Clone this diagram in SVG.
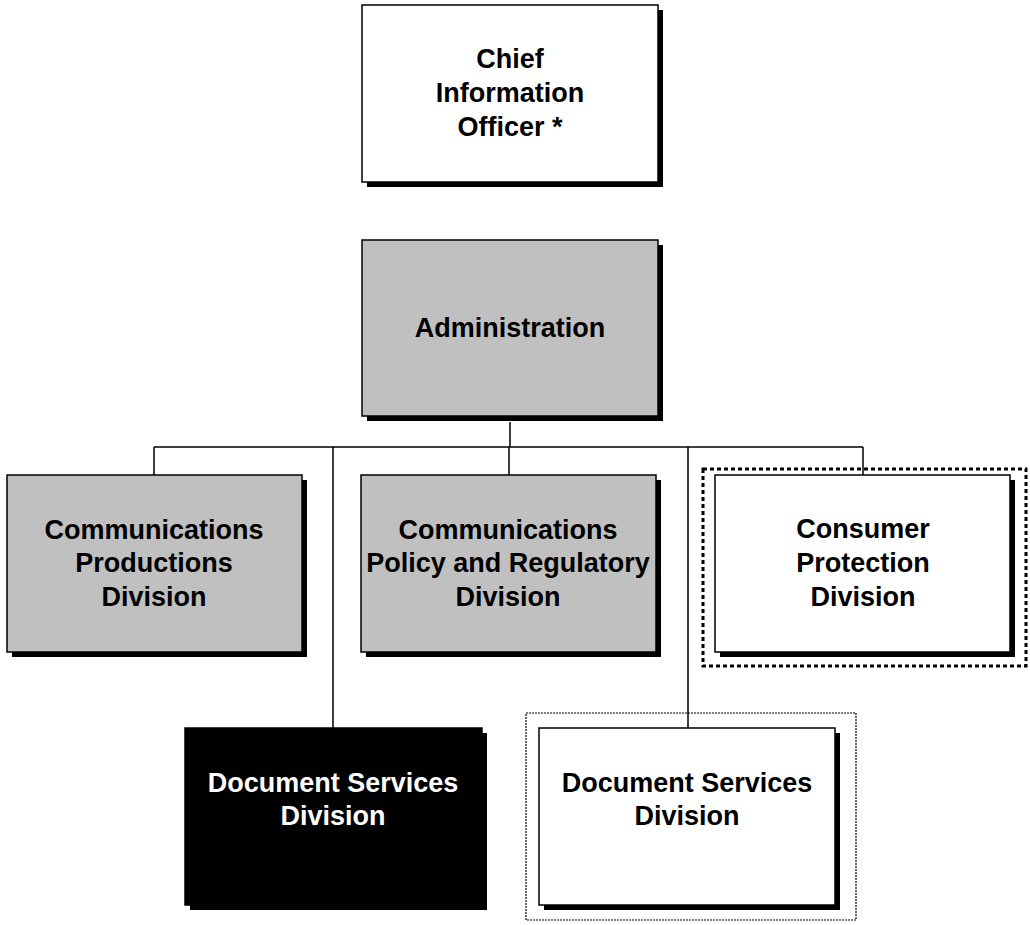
<svg xmlns="http://www.w3.org/2000/svg" width="1030" height="925" viewBox="0 0 1030 925">
<style>
.box{stroke:#000;stroke-width:1.5}
.shadow{fill:#000}
.grey{fill:#c0c0c0}
.white{fill:#fff}
.black{fill:#000}
text{font-family:"Liberation Sans",Arial,sans-serif;font-weight:bold;font-size:27px;text-anchor:middle;fill:#000}
text.inv{fill:#fff}
.conn{stroke:#000;stroke-width:1.5;fill:none}
.dotthick{fill:none;stroke:#000;stroke-width:3;stroke-dasharray:4 3}
.dotthin{fill:none;stroke:#000;stroke-width:1.2;stroke-dasharray:2 1}
</style>
<rect width="1030" height="925" fill="#fff"/>
<g id="connectors">
<path class="conn" d="M510 422V447M154 447H863M154 447V475M333 447V728M509 447V475M688 447V728M863 447V475"/>
</g>
<g id="cio">
<rect class="shadow" x="367" y="10" width="296" height="177"/>
<rect class="box white" x="362" y="5" width="296" height="177"/>
<text x="510" y="68">Chief</text>
<text x="510" y="102">Information</text>
<text x="510" y="136">Officer *</text>
</g>
<g id="admin">
<rect class="shadow" x="367" y="245" width="296" height="176"/>
<rect class="box grey" x="362" y="240" width="296" height="176"/>
<text x="510" y="337">Administration</text>
</g>
<g id="comm-prod">
<rect class="shadow" x="12" y="480" width="295" height="177"/>
<rect class="box grey" x="7" y="475" width="295" height="177"/>
<text x="154" y="539">Communications</text>
<text x="154" y="572">Productions</text>
<text x="154" y="606">Division</text>
</g>
<g id="comm-policy">
<rect class="shadow" x="366" y="480" width="295" height="177"/>
<rect class="box grey" x="361" y="475" width="295" height="177"/>
<text x="508" y="539">Communications</text>
<text x="508" y="572">Policy and Regulatory</text>
<text x="508" y="606">Division</text>
</g>
<g id="consumer">
<rect class="dotthick" x="703" y="469" width="323" height="197"/>
<rect class="shadow" x="720" y="480" width="295" height="177"/>
<rect class="box white" x="715" y="475" width="295" height="177"/>
<text x="863" y="538">Consumer</text>
<text x="863" y="572">Protection</text>
<text x="863" y="606">Division</text>
</g>
<g id="doc-black">
<rect class="shadow" x="190" y="733" width="297" height="177"/>
<rect class="box black" x="185" y="728" width="297" height="177"/>
<text class="inv" x="333" y="792">Document Services</text>
<text class="inv" x="333" y="825">Division</text>
</g>
<g id="doc-white">
<rect class="dotthin" x="526" y="713" width="330" height="207"/>
<rect class="shadow" x="544" y="733" width="296" height="177"/>
<rect class="box white" x="539" y="728" width="296" height="177"/>
<text x="687" y="792">Document Services</text>
<text x="687" y="825">Division</text>
</g>
</svg>
